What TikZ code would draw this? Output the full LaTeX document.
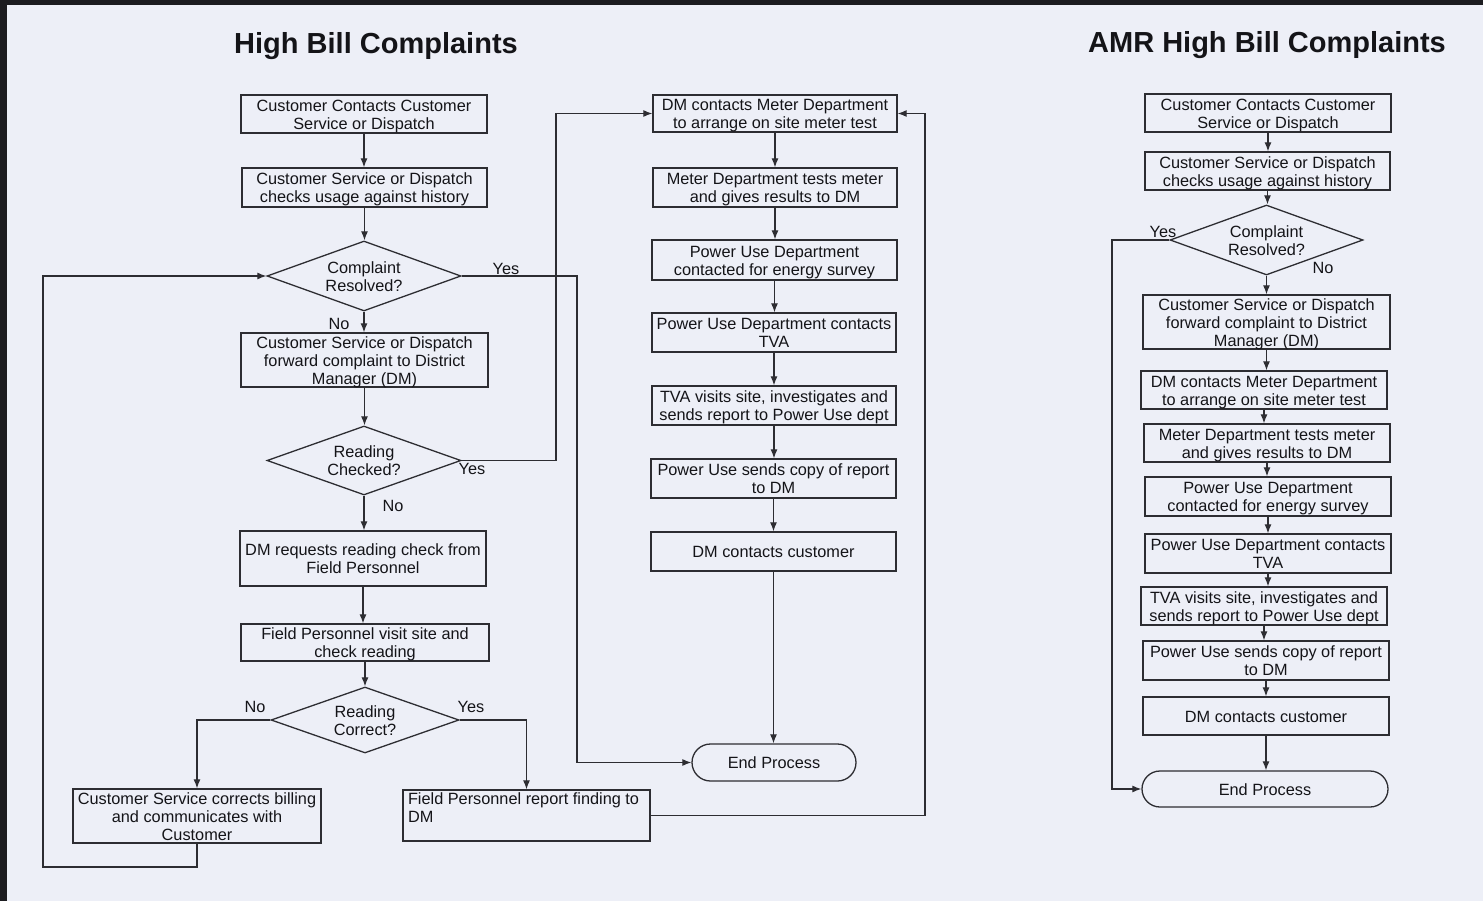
\documentclass[tikz,border=0pt]{standalone}
\usepackage{fontspec}
\setmainfont{Liberation Sans}
\usetikzlibrary{arrows.meta,shapes.geometric,shapes.misc}
\definecolor{bgc}{RGB}{237,239,247}
\definecolor{linec}{RGB}{45,45,50}
\definecolor{textc}{RGB}{20,20,24}
\definecolor{edgec}{RGB}{28,28,32}
\newcommand{\fs}{\fontsize{16.3pt}{18pt}\selectfont}
% shift text slightly down without changing the node size
\newcommand{\tx}[1]{\raisebox{-2.5pt}[\height][\depth]{\begin{tabular}{@{}c@{}}#1\end{tabular}}}
\tikzset{
  box/.style={rectangle, draw=linec, line width=1.3pt, inner sep=0pt, align=center, font=\fs, text=textc},
  dec/.style={diamond, draw=linec, line width=1.3pt, inner sep=0pt, aspect=2.77, align=center, font=\fs, text=textc},
  term/.style={rounded rectangle, draw=linec, line width=1.3pt, inner sep=0pt, font=\fs, text=textc},
  arr/.style={draw=linec, line width=1.2pt, -{Latex[length=9pt,width=7pt]}},
  lab/.style={font=\fs, text=textc, inner sep=0pt},
  ttl/.style={font=\fontsize{29pt}{33pt}\selectfont\bfseries, text=textc, inner sep=0pt}
}
\begin{document}
\begin{tikzpicture}[x=1pt,y=-1pt]
\fill[bgc] (0,0) rectangle (1483,901);
\useasboundingbox (0,0) rectangle (1483,901);
\fill[edgec] (0,0) rectangle (1483,5);
\fill[edgec] (0,0) rectangle (7,901);

% titles
\node[ttl] (t1) at (376,46) {High Bill Complaints};
\node[ttl] (t2) at (1267,45.5) {AMR High Bill Complaints};

% left column
\node[box, minimum width=246pt, minimum height=38pt] (b1) at (364,114) {\tx{Customer Contacts Customer\\Service or Dispatch}};
\node[box, minimum width=245pt, minimum height=39pt] (b2) at (364.5,187.5) {\tx{Customer Service or Dispatch\\checks usage against history}};
\node[dec, minimum width=194pt, minimum height=70pt] (d1) at (364,276) {\tx{Complaint\\Resolved?}};
\node[box, minimum width=247pt, minimum height=54pt] (b3) at (364.5,360) {\tx{Customer Service or Dispatch\\forward complaint to District\\Manager (DM)}};
\node[dec, minimum width=194pt, minimum height=69pt] (d2) at (364,460.5) {\tx{Reading\\Checked?}};
\node[box, minimum width=246pt, minimum height=55pt] (b4) at (363,558.5) {\tx{DM requests reading check from\\Field Personnel}};
\node[box, minimum width=248pt, minimum height=37pt] (b5) at (365,642.5) {\tx{Field Personnel visit site and\\check reading}};
\node[dec, minimum width=188pt, minimum height=66pt] (d3) at (365,720) {\tx{Reading\\Correct?}};
\node[box, minimum width=248pt, minimum height=54pt] (b6) at (197,816) {\tx{Customer Service corrects billing\\and communicates with\\Customer}};
\node[box, minimum width=247pt, minimum height=51pt, inner xsep=5pt, inner ysep=3pt] (b7) at (526.5,815.5)
  {\parbox[c][45pt][t]{237pt}{\raggedright Field Personnel report finding to\\DM}};

% middle column
\node[box, minimum width=244pt, minimum height=37pt] (m1) at (775,113.5) {\tx{DM contacts Meter Department\\to arrange on site meter test}};
\node[box, minimum width=244pt, minimum height=39pt] (m2) at (775,187.5) {\tx{Meter Department tests meter\\and gives results to DM}};
\node[box, minimum width=245pt, minimum height=40pt] (m3) at (774.5,260) {\tx{Power Use Department\\contacted for energy survey}};
\node[box, minimum width=244pt, minimum height=39pt] (m4) at (774,332.5) {\tx{Power Use Department contacts\\TVA}};
\node[box, minimum width=244pt, minimum height=39pt] (m5) at (774,405.5) {\tx{TVA visits site, investigates and\\sends report to Power Use dept}};
\node[box, minimum width=245pt, minimum height=39pt] (m6) at (773.5,478.5) {\tx{Power Use sends copy of report\\to DM}};
\node[box, minimum width=245pt, minimum height=39pt] (m7) at (773.5,551.5) {\tx{DM contacts customer}};
\node[term, minimum width=164pt, minimum height=37pt] (e1) at (774,762.5) {\tx{End Process}};

% right column
\node[box, minimum width=246pt, minimum height=38pt] (r1) at (1268,113) {\tx{Customer Contacts Customer\\Service or Dispatch}};
\node[box, minimum width=245pt, minimum height=38pt] (r2) at (1267.5,171) {\tx{Customer Service or Dispatch\\checks usage against history}};
\node[dec, minimum width=193pt, minimum height=70pt] (rd) at (1266.5,240) {\tx{Complaint\\Resolved?}};
\node[box, minimum width=247pt, minimum height=54pt] (r3) at (1266.5,322) {\tx{Customer Service or Dispatch\\forward complaint to District\\Manager (DM)}};
\node[box, minimum width=246pt, minimum height=38pt] (r4) at (1264,390) {\tx{DM contacts Meter Department\\to arrange on site meter test}};
\node[box, minimum width=246pt, minimum height=38pt] (r5) at (1267,443) {\tx{Meter Department tests meter\\and gives results to DM}};
\node[box, minimum width=246pt, minimum height=39pt] (r6) at (1268,496.5) {\tx{Power Use Department\\contacted for energy survey}};
\node[box, minimum width=246pt, minimum height=39pt] (r7) at (1268,553.5) {\tx{Power Use Department contacts\\TVA}};
\node[box, minimum width=246pt, minimum height=38pt] (r8) at (1264,606) {\tx{TVA visits site, investigates and\\sends report to Power Use dept}};
\node[box, minimum width=246pt, minimum height=39pt] (r9) at (1266,660.5) {\tx{Power Use sends copy of report\\to DM}};
\node[box, minimum width=246pt, minimum height=38pt] (r10) at (1266,716) {\tx{DM contacts customer}};
\node[term, minimum width=246pt, minimum height=36pt] (e2) at (1265,789) {\tx{End Process}};

% helper coordinates
\coordinate (lb) at (43,867);
\coordinate (yr) at (577,276);
\coordinate (yc) at (556,460.5);
\coordinate (rc) at (925,815.5);
\coordinate (ry) at (1112,240);

% left connectors
\draw[arr] (b1.south) -- (b1.south |- b2.north);
\draw[arr] (b2.south) -- (b2.south |- d1.north);
\draw[arr] (d1.south) -- (d1.south |- b3.north);
\draw[arr] (b3.south) -- (b3.south |- d2.north);
\draw[arr] (d2.south) -- (d2.south |- b4.north);
\draw[arr] (b4.south) -- (b4.south |- b5.north);
\draw[arr] (b5.south) -- (b5.south |- d3.north);
\draw[arr] (d3.west) -| (b6.north);
\draw[arr] (d3.east) -| (b7.north);
\draw[arr] (b6.south) |- (lb) |- (d1.west);
\draw[arr] (d1.east) -- (yr) |- (e1.west);
\draw[arr] (d2.east) -- (yc) |- (m1.west);
\draw[arr] (b7.east) -- (rc) |- (m1.east);

% middle connectors
\draw[arr] (m1.south) -- (m1.south |- m2.north);
\draw[arr] (m2.south) -- (m2.south |- m3.north);
\draw[arr] (m3.south) -- (m3.south |- m4.north);
\draw[arr] (m4.south) -- (m4.south |- m5.north);
\draw[arr] (m5.south) -- (m5.south |- m6.north);
\draw[arr] (m6.south) -- (m6.south |- m7.north);
\draw[arr] (m7.south) -- (m7.south |- e1.north);

% right connectors
\draw[arr] (r1.south) -- (r1.south |- r2.north);
\draw[arr] (r2.south) -- (r2.south |- rd.north);
\draw[arr] (rd.south) -- (rd.south |- r3.north);
\draw[arr] (r3.south) -- (r3.south |- r4.north);
\draw[arr] (r4.south) -- (r4.south |- r5.north);
\draw[arr] (r5.south) -- (r5.south |- r6.north);
\draw[arr] (r6.south) -- (r6.south |- r7.north);
\draw[arr] (r7.south) -- (r7.south |- r8.north);
\draw[arr] (r8.south) -- (r8.south |- r9.north);
\draw[arr] (r9.south) -- (r9.south |- r10.north);
\draw[arr] (r10.south) -- (r10.south |- e2.north);
\draw[arr] (rd.west) -- (ry) |- (e2.west);

% branch labels
\node[lab] (l1) at (506,269) {Yes};
\node[lab] (l2) at (339,324) {No};
\node[lab] (l3) at (472,469) {Yes};
\node[lab] (l4) at (393,506) {No};
\node[lab] (l5) at (255,707) {No};
\node[lab] (l6) at (471,707) {Yes};
\node[lab] (l7) at (1163,232) {Yes};
\node[lab] (l8) at (1323,268) {No};
\end{tikzpicture}
\end{document}
